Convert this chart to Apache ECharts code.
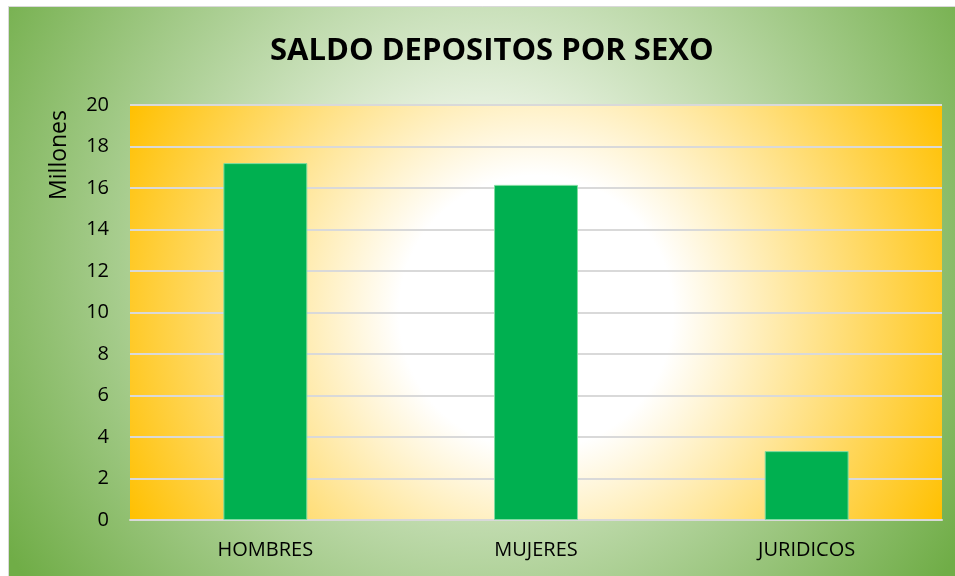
<!DOCTYPE html>
<html><head><meta charset="utf-8">
<script src="https://cdn.jsdelivr.net/npm/echarts@6/dist/echarts.min.js"></script>
<style>html,body{margin:0;padding:0;background:#fff}#c{width:955px;height:576px}</style>
</head><body><div id="c"></div>
<script>
const categories = ['HOMBRES', 'MUJERES', 'JURIDICOS'];
const saldo = [17.2, 16.15, 3.32];
const yTicks = [0, 2, 4, 6, 8, 10, 12, 14, 16, 18, 20];
const titleText = 'SALDO DEPOSITOS POR SEXO';
const axisName = 'Millones';

const chart = echarts.init(document.getElementById('c'), null, {renderer: 'canvas'});
const font = '"Open Sans", "Liberation Sans", sans-serif';
chart.setOption({
  animation: false,
  graphic: [
    {type: 'rect', left: 8, top: 6, z: -10, silent: true,
     shape: {width: 950, height: 575},
     style: {fill: {type: 'radial', x: 0.5, y: 0.42, r: 0.98,
       colorStops: [{offset: 0, color: '#ffffff'}, {offset: 0.22, color: '#eaf3e4'}, {offset: 1, color: '#70ad47'}]},
       stroke: '#d9d9d9', lineWidth: 1}},
    {type: 'text', left: 48, top: 110, rotation: Math.PI / 2, z: 5,
     style: {text: axisName, font: '23px ' + font, fill: '#000'}}
  ],
  title: {text: titleText, left: 265, top: 31,
    textStyle: {fontFamily: font, fontWeight: 'bold', fontSize: 31, color: '#000'}},
  grid: {left: 130, right: 13, top: 105, bottom: 56, show: true, borderWidth: 0,
    backgroundColor: {type: 'radial', x: 0.5, y: 0.5, r: 1.1,
      colorStops: [{offset: 0, color: '#ffffff'}, {offset: 0.3, color: '#ffffff'}, {offset: 1, color: '#ffc000'}]}},
  xAxis: {type: 'category', data: categories,
    axisLine: {lineStyle: {color: '#d9d9d9', width: 2}}, axisTick: {show: false},
    axisLabel: {fontFamily: font, fontSize: 20, color: '#000', margin: 20}},
  yAxis: {type: 'value', min: yTicks[0], max: yTicks[yTicks.length - 1], interval: 2,
    axisLine: {show: false}, axisTick: {show: false},
    splitLine: {lineStyle: {color: '#d9d9d9', width: 2}},
    axisLabel: {fontFamily: font, fontSize: 20, color: '#000', margin: 21}},
  series: [{type: 'bar', data: saldo, barWidth: '31%',
    itemStyle: {color: '#00b050', borderColor: '#7fdca0', borderWidth: 1}}]
});
</script></body></html>
